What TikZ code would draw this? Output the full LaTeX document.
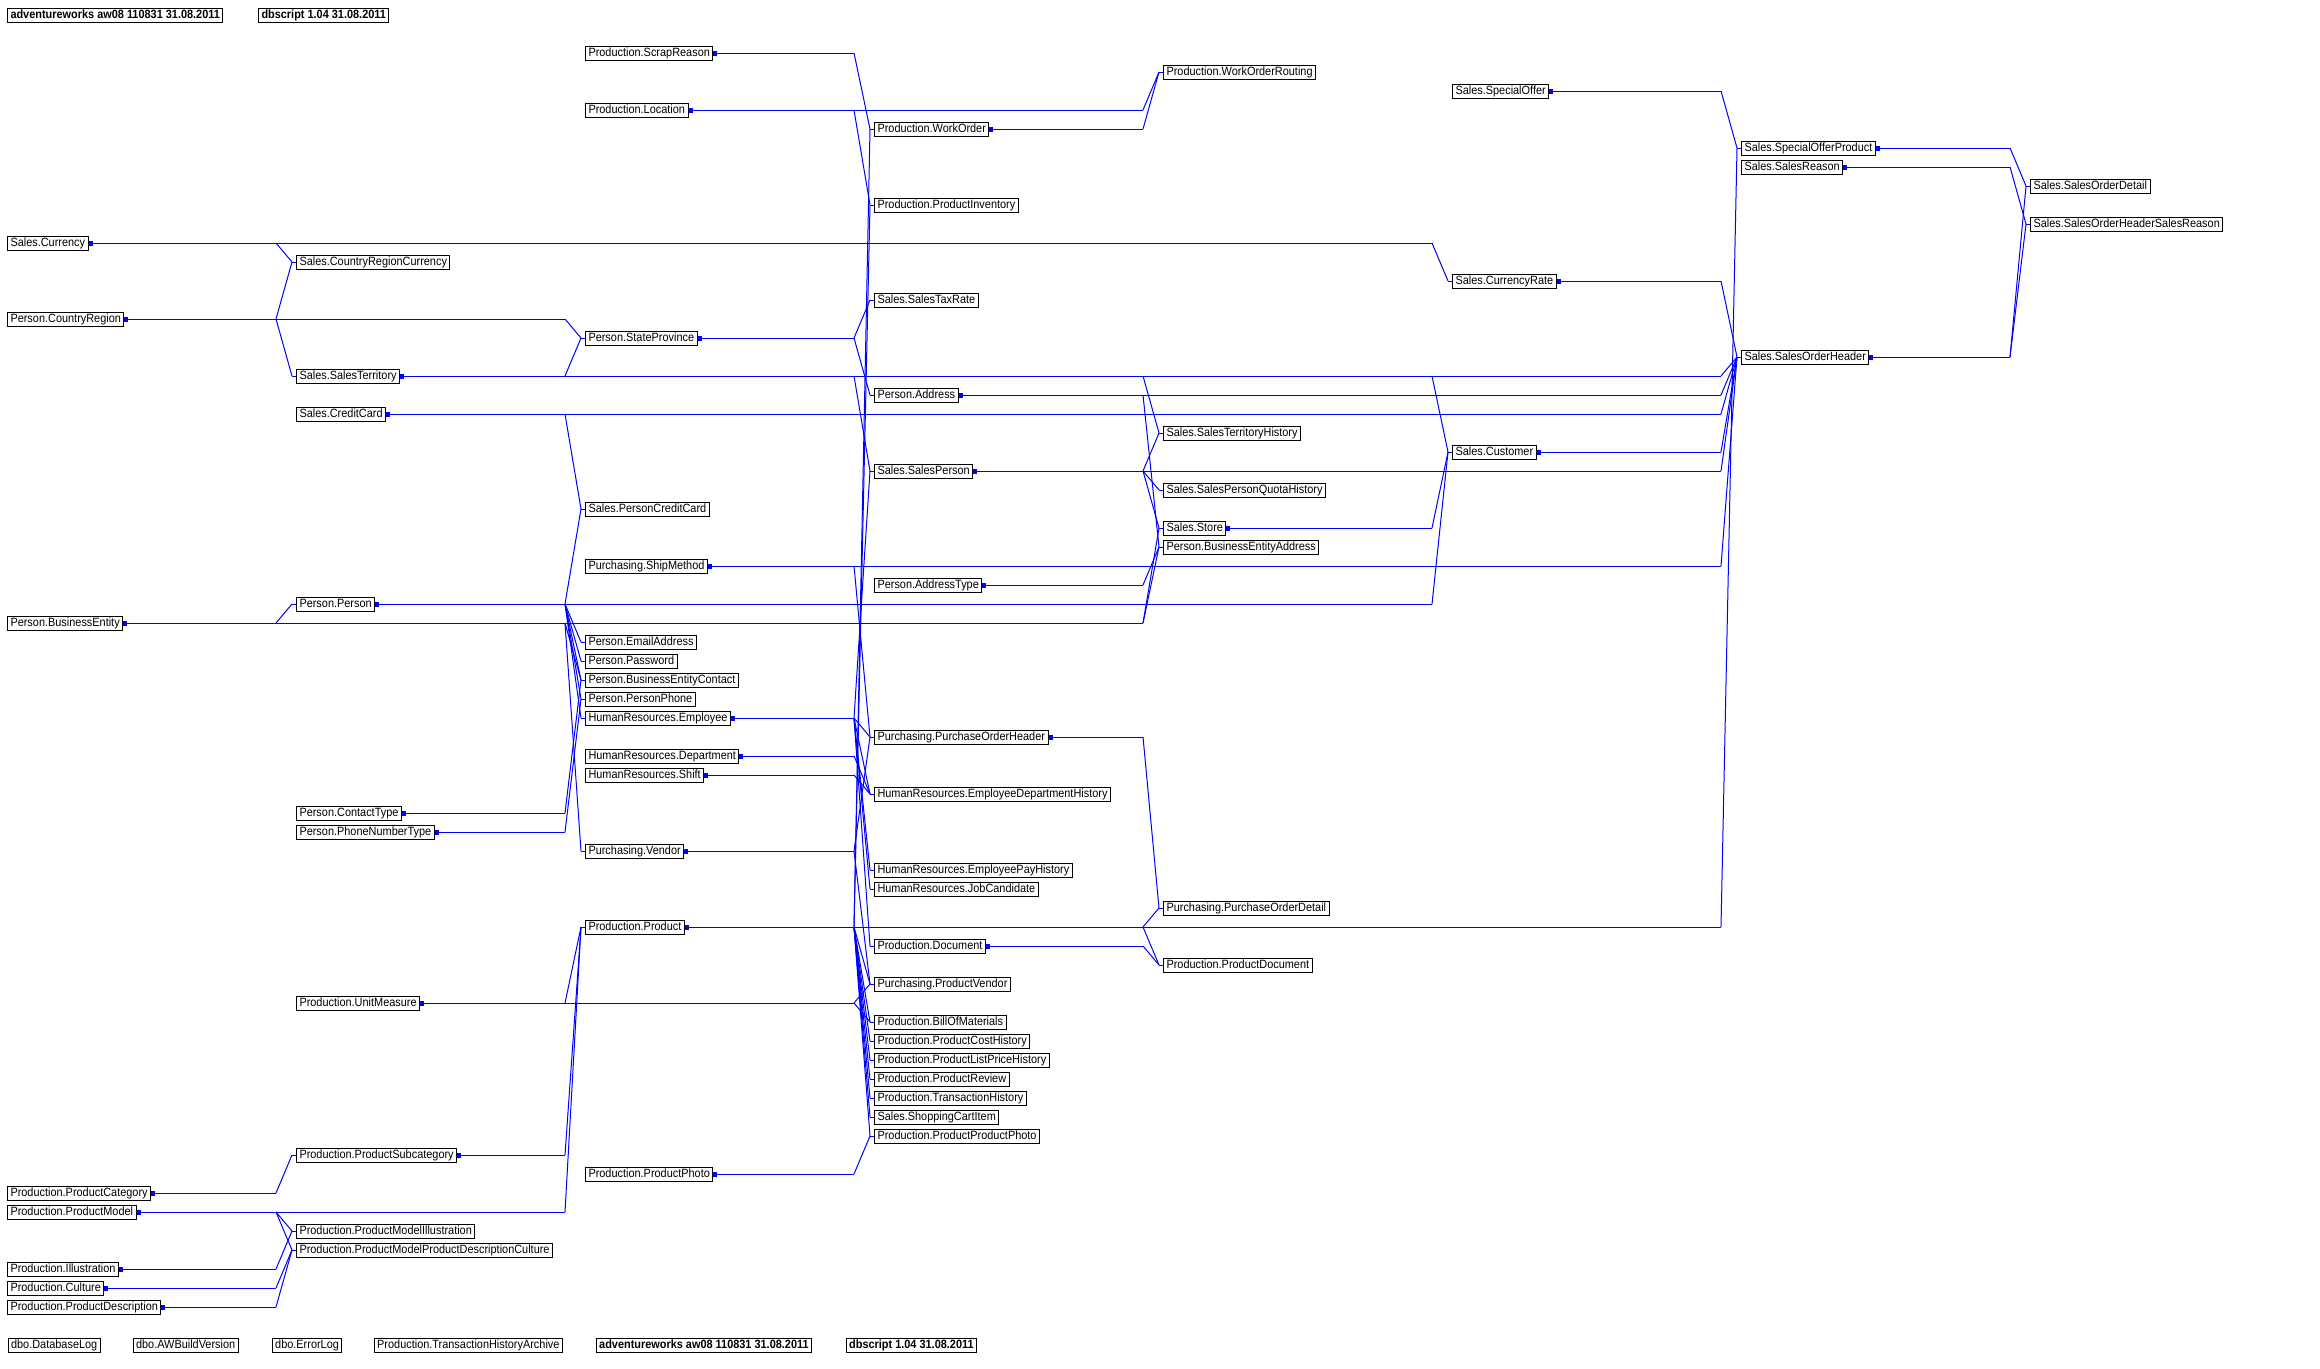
\documentclass[tikz,border=0pt]{standalone}
\usepackage{fontspec}
\setmainfont[FakeStretch=0.91]{Liberation Sans}
\usepackage{tikz}

\tikzset{
  tbl/.style={draw, line width=1pt, anchor=west, font=\fontsize{12}{12}\selectfont,
    inner xsep=3pt, inner ysep=0pt, minimum height=14pt, text height=9pt, text depth=2.5pt},
  hdr/.style={tbl, font=\fontsize{12}{12}\selectfont\bfseries},
  fk/.style={draw=blue, line width=1pt}
}

\begin{document}
\begin{tikzpicture}[x=1pt, y=-19pt]
    \useasboundingbox (0,-0.7895) rectangle (2320,71.2105);

    % bend lines in front of each column
    \coordinate (g1) at (276,0);
    \coordinate (g2) at (565,0);
    \coordinate (g3) at (854,0);
    \coordinate (g4) at (1143,0);
    \coordinate (g5) at (1432,0);
    \coordinate (g6) at (1721,0);
    \coordinate (g7) at (2010,0);

    % header
    \node[hdr] (ttl) at (7,0) {adventureworks aw08 110831 31.08.2011};
    \node[hdr] (dbs) at (258,0) {dbscript 1.04 31.08.2011};

    % column 0
    \node[tbl] (cur) at (7,12) {Sales.Currency};
    \node[tbl] (creg) at (7,16) {Person.CountryRegion};
    \node[tbl] (bent) at (7,32) {Person.BusinessEntity};
    \node[tbl] (pcat) at (7,62) {Production.ProductCategory};
    \node[tbl] (pmod) at (7,63) {Production.ProductModel};
    \node[tbl] (illu) at (7,66) {Production.Illustration};
    \node[tbl] (cult) at (7,67) {Production.Culture};
    \node[tbl] (pdesc) at (7,68) {Production.ProductDescription};

    % column 1
    \node[tbl] (crc) at (296,13) {Sales.CountryRegionCurrency};
    \node[tbl] (terr) at (296,19) {Sales.SalesTerritory};
    \node[tbl] (ccard) at (296,21) {Sales.CreditCard};
    \node[tbl] (pers) at (296,31) {Person.Person};
    \node[tbl] (ctype) at (296,42) {Person.ContactType};
    \node[tbl] (pntype) at (296,43) {Person.PhoneNumberType};
    \node[tbl] (unit) at (296,52) {Production.UnitMeasure};
    \node[tbl] (psub) at (296,60) {Production.ProductSubcategory};
    \node[tbl] (pmill) at (296,64) {Production.ProductModelIllustration};
    \node[tbl] (pmpdc) at (296,65) {Production.ProductModelProductDescriptionCulture};

    % column 2
    \node[tbl] (scrap) at (585,2) {Production.ScrapReason};
    \node[tbl] (loc) at (585,5) {Production.Location};
    \node[tbl] (state) at (585,17) {Person.StateProvince};
    \node[tbl] (pcc) at (585,26) {Sales.PersonCreditCard};
    \node[tbl] (ship) at (585,29) {Purchasing.ShipMethod};
    \node[tbl] (email) at (585,33) {Person.EmailAddress};
    \node[tbl] (pwd) at (585,34) {Person.Password};
    \node[tbl] (bec) at (585,35) {Person.BusinessEntityContact};
    \node[tbl] (phone) at (585,36) {Person.PersonPhone};
    \node[tbl] (emp) at (585,37) {HumanResources.Employee};
    \node[tbl] (dept) at (585,39) {HumanResources.Department};
    \node[tbl] (shift) at (585,40) {HumanResources.Shift};
    \node[tbl] (vend) at (585,44) {Purchasing.Vendor};
    \node[tbl] (prod) at (585,48) {Production.Product};
    \node[tbl] (photo) at (585,61) {Production.ProductPhoto};

    % column 3
    \node[tbl] (wo) at (874,6) {Production.WorkOrder};
    \node[tbl] (inv) at (874,10) {Production.ProductInventory};
    \node[tbl] (tax) at (874,15) {Sales.SalesTaxRate};
    \node[tbl] (addr) at (874,20) {Person.Address};
    \node[tbl] (sp) at (874,24) {Sales.SalesPerson};
    \node[tbl] (atype) at (874,30) {Person.AddressType};
    \node[tbl] (poh) at (874,38) {Purchasing.PurchaseOrderHeader};
    \node[tbl] (edh) at (874,41) {HumanResources.EmployeeDepartmentHistory};
    \node[tbl] (eph) at (874,45) {HumanResources.EmployeePayHistory};
    \node[tbl] (job) at (874,46) {HumanResources.JobCandidate};
    \node[tbl] (doc) at (874,49) {Production.Document};
    \node[tbl] (pven) at (874,51) {Purchasing.ProductVendor};
    \node[tbl] (bom) at (874,53) {Production.BillOfMaterials};
    \node[tbl] (pch) at (874,54) {Production.ProductCostHistory};
    \node[tbl] (plph) at (874,55) {Production.ProductListPriceHistory};
    \node[tbl] (rev) at (874,56) {Production.ProductReview};
    \node[tbl] (trh) at (874,57) {Production.TransactionHistory};
    \node[tbl] (cart) at (874,58) {Sales.ShoppingCartItem};
    \node[tbl] (ppp) at (874,59) {Production.ProductProductPhoto};

    % column 4
    \node[tbl] (wor) at (1163,3) {Production.WorkOrderRouting};
    \node[tbl] (sth) at (1163,22) {Sales.SalesTerritoryHistory};
    \node[tbl] (spqh) at (1163,25) {Sales.SalesPersonQuotaHistory};
    \node[tbl] (store) at (1163,27) {Sales.Store};
    \node[tbl] (bea) at (1163,28) {Person.BusinessEntityAddress};
    \node[tbl] (pod) at (1163,47) {Purchasing.PurchaseOrderDetail};
    \node[tbl] (pdoc) at (1163,50) {Production.ProductDocument};

    % column 5
    \node[tbl] (offer) at (1452,4) {Sales.SpecialOffer};
    \node[tbl] (rate) at (1452,14) {Sales.CurrencyRate};
    \node[tbl] (cust) at (1452,23) {Sales.Customer};

    % column 6
    \node[tbl] (sop) at (1741,7) {Sales.SpecialOfferProduct};
    \node[tbl] (reason) at (1741,8) {Sales.SalesReason};
    \node[tbl] (soh) at (1741,18) {Sales.SalesOrderHeader};

    % column 7
    \node[tbl] (sod) at (2030,9) {Sales.SalesOrderDetail};
    \node[tbl] (sohsr) at (2030,11) {Sales.SalesOrderHeaderSalesReason};

    % tables without relations
    \node[tbl] (dblog) at (7.6,70) {dbo.DatabaseLog};
    \node[tbl] (awbv) at (132.6,70) {dbo.AWBuildVersion};
    \node[tbl] (errlog) at (271.7,70) {dbo.ErrorLog};
    \node[tbl] (tha) at (373.7,70) {Production.TransactionHistoryArchive};
    \node[hdr] (ttlb) at (595.7,70) {adventureworks aw08 110831 31.08.2011};
    \node[hdr] (dbsb) at (845.7,70) {dbscript 1.04 31.08.2011};

    % one trunk per parent, out to its last bend
    \foreach \p/\g in {cur/g5, creg/g2, bent/g4, pcat/g1, pmod/g2, illu/g1, cult/g1, pdesc/g1,
        terr/g6, ccard/g6, pers/g5, ctype/g2, pntype/g2, unit/g3, psub/g2,
        scrap/g3, loc/g4, state/g3, ship/g6, emp/g3, dept/g3, shift/g3, vend/g3, prod/g6, photo/g3,
        wo/g4, addr/g6, sp/g6, atype/g4, poh/g4, doc/g4,
        store/g5, offer/g6, rate/g6, cust/g6, sop/g7, reason/g7, soh/g7}
      \draw[fk] (\p.east) -- (\p.east -| \g);

    % foreign keys: parent / child / bend
    \foreach \p/\c/\g in {cur/crc/g1, cur/rate/g5,
        creg/crc/g1, creg/terr/g1, creg/state/g2,
        bent/pers/g1, bent/bec/g2, bent/vend/g2, bent/bea/g4, bent/store/g4,
        pcat/psub/g1,
        pmod/prod/g2, pmod/pmill/g1, pmod/pmpdc/g1,
        illu/pmill/g1, cult/pmpdc/g1, pdesc/pmpdc/g1,
        terr/state/g2, terr/sp/g3, terr/sth/g4, terr/cust/g5, terr/soh/g6,
        ccard/pcc/g2, ccard/soh/g6,
        pers/pcc/g2, pers/email/g2, pers/pwd/g2, pers/bec/g2, pers/phone/g2, pers/emp/g2, pers/cust/g5,
        ctype/bec/g2, pntype/phone/g2,
        unit/prod/g2, unit/pven/g3, unit/bom/g3,
        psub/prod/g2,
        scrap/wo/g3, loc/inv/g3, loc/wor/g4,
        state/tax/g3, state/addr/g3,
        ship/poh/g3, ship/soh/g6,
        emp/sp/g3, emp/poh/g3, emp/edh/g3, emp/eph/g3, emp/job/g3, emp/doc/g3,
        dept/edh/g3, shift/edh/g3,
        vend/poh/g3, vend/pven/g3,
        prod/wo/g3, prod/inv/g3, prod/pven/g3, prod/bom/g3, prod/pch/g3, prod/plph/g3,
        prod/rev/g3, prod/trh/g3, prod/cart/g3, prod/ppp/g3, prod/pod/g4, prod/pdoc/g4, prod/sop/g6,
        photo/ppp/g3,
        wo/wor/g4,
        addr/bea/g4, addr/soh/g6,
        sp/sth/g4, sp/spqh/g4, sp/store/g4, sp/soh/g6,
        atype/bea/g4, poh/pod/g4, doc/pdoc/g4,
        store/cust/g5,
        offer/sop/g6, rate/soh/g6, cust/soh/g6,
        sop/sod/g7, reason/sohsr/g7, soh/sod/g7, soh/sohsr/g7}
      \draw[fk] (\p.east -| \g) -- ([xshift=-4pt]\c.west);

    % short stub into each child
    \foreach \c in {crc, rate, terr, state, pers, bec, vend, bea, store, psub, prod, pmill, pmpdc,
        sp, sth, cust, soh, pcc, email, pwd, phone, emp, pven, bom, wo, inv, wor, tax, addr,
        poh, edh, eph, job, doc, pch, plph, rev, trh, cart, ppp, pod, pdoc, sop, spqh, sod, sohsr}
      \draw[fk] ([xshift=-4pt]\c.west) -- (\c.west);

    % key markers
    \foreach \p in {cur, creg, bent, pcat, pmod, illu, cult, pdesc, terr, ccard, pers, ctype, pntype,
        unit, psub, scrap, loc, state, ship, emp, dept, shift, vend, prod, photo, wo, addr, sp,
        atype, poh, doc, store, offer, rate, cust, sop, reason, soh}
      \fill[blue] ([yshift=-2.5pt]\p.east) rectangle ++(4pt,5pt);
\end{tikzpicture}
\end{document}
